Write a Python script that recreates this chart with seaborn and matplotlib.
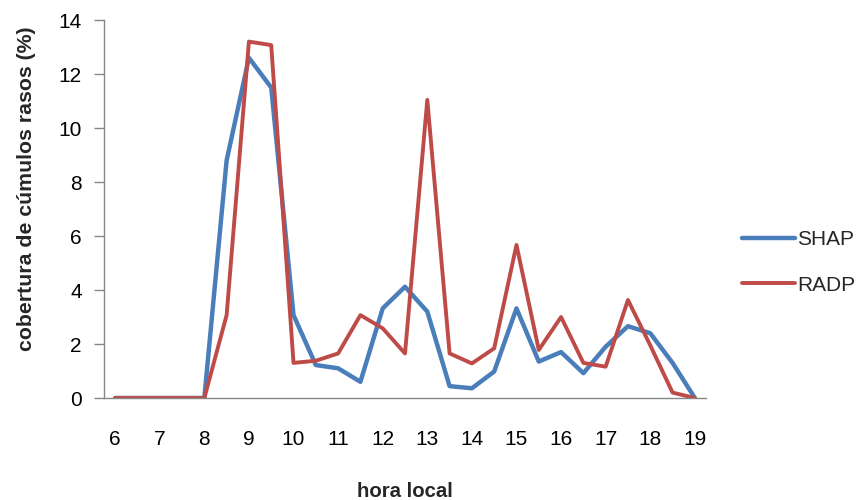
import matplotlib
matplotlib.use("Agg")
import matplotlib.pyplot as plt
import seaborn as sns
import pandas as pd

# ---- data ----
hours = [6, 6.5, 7, 7.5, 8, 8.5, 9, 9.5, 10, 10.5, 11, 11.5, 12, 12.5, 13,
         13.5, 14, 14.5, 15, 15.5, 16, 16.5, 17, 17.5, 18, 18.5, 19]
shap = [0, 0, 0, 0, 0, 8.8, 12.6, 11.5, 3.07, 1.22, 1.1, 0.6, 3.32, 4.12, 3.2,
        0.44, 0.36, 0.98, 3.32, 1.35, 1.7, 0.92, 1.9, 2.66, 2.4, 1.3, 0]
radp = [0, 0, 0, 0, 0, 3.07, 13.2, 13.07, 1.3, 1.38, 1.65, 3.07, 2.58, 1.65, 11.04,
        1.65, 1.28, 1.84, 5.67, 1.78, 3.0, 1.3, 1.16, 3.63, 1.95, 0.2, 0]
series_names = ["SHAP", "RADP"]
xtick_labels = [6, 7, 8, 9, 10, 11, 12, 13, 14, 15, 16, 17, 18, 19]
ytick_labels = [0, 2, 4, 6, 8, 10, 12, 14]
colors = {"SHAP": "#4A7EBB", "RADP": "#BE4B48"}

df_shap = pd.DataFrame({"hora": hours, "valor": shap, "serie": "SHAP"})
df_radp = pd.DataFrame({"hora": hours, "valor": radp, "serie": "RADP"})

sns.set_theme(style="white")
plt.rcParams["font.family"] = ["Liberation Sans", "DejaVu Sans"]

fig = plt.figure(figsize=(8.57, 5.0), dpi=100)
ax = fig.add_axes([104 / 857, 1 - 398 / 500, 602 / 857, 378 / 500])

sns.lineplot(data=df_shap, x="hora", y="valor", color=colors["SHAP"], lw=3.2,
             label="SHAP", ax=ax, solid_joinstyle="round", solid_capstyle="round")
sns.lineplot(data=df_radp, x="hora", y="valor", color=colors["RADP"], lw=2.8,
             label="RADP", ax=ax, solid_joinstyle="round", solid_capstyle="round")

ax.set_xlim(5.75, 19.25)
ax.set_ylim(0, 14)
ax.set_xticks(xtick_labels)
ax.set_xticklabels([str(v) for v in xtick_labels])
ax.set_yticks(ytick_labels)
ax.set_yticklabels([str(v) for v in ytick_labels])

for s in ["top", "right"]:
    ax.spines[s].set_visible(False)
for s in ["left", "bottom"]:
    ax.spines[s].set_color("#868686")
    ax.spines[s].set_linewidth(1.0)

ax.tick_params(axis="y", which="both", left=True, length=7, width=1.0,
               color="#868686", pad=9, labelsize=15, labelcolor="black")
ax.tick_params(axis="x", which="both", bottom=False, length=0, pad=23,
               labelsize=15, labelcolor="black")

ax.set_xlabel("hora local", fontsize=14.7, fontweight="bold", labelpad=24)
ax.set_ylabel("cobertura de cúmulos rasos (%)", fontsize=15.3, fontweight="bold")
ax.yaxis.set_label_coords(-0.113, 0.553)

if ax.legend_:
    ax.legend_.remove()
handles, labels = ax.get_legend_handles_labels()
fig.legend(handles, labels, loc="center left", bbox_to_anchor=(742 / 857, 1 - 262.5 / 500),
           frameon=False, fontsize=15, handlelength=2.55, handletextpad=0.1,
           labelspacing=1.26, borderpad=0, borderaxespad=0)

fig.savefig("out.png", dpi=100)
